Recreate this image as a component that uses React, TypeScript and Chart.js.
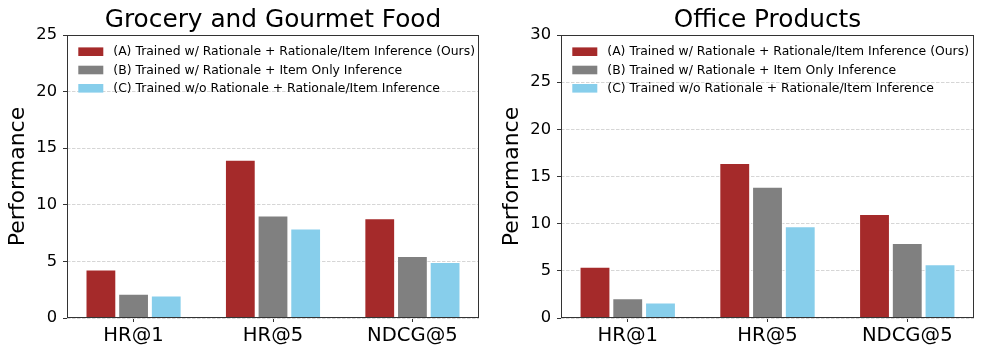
import React, { useEffect, useRef } from "react";
import { Chart, registerables } from "chart.js";

Chart.register(...registerables);

// ---- data ----
const categories = ["HR@1", "HR@5", "NDCG@5"];
const seriesLabels = [
  "(A) Trained w/ Rationale + Rationale/Item Inference (Ours)",
  "(B) Trained w/ Rationale + Item Only Inference",
  "(C) Trained w/o Rationale + Rationale/Item Inference",
];
const seriesColors = ["#a52a2a", "#808080", "#87ceeb"];

const groceryA = [4.27, 13.97, 8.79];
const groceryB = [2.13, 9.03, 5.47];
const groceryC = [1.97, 7.88, 4.94];

const officeA = [5.4, 16.41, 11.01];
const officeB = [2.08, 13.9, 7.94];
const officeC = [1.62, 9.7, 5.68];

const groceryYMax = 25;
const officeYMax = 30;
const yTickStep = 5;

const FONT = '"DejaVu Sans", sans-serif';

const frameLegendPlugin = {
  id: "frameLegend",
  afterDatasetsDraw(chart: any) {
    const { ctx, chartArea: a } = chart;
    ctx.save();
    ctx.font = `12.4px ${FONT}`;
    ctx.textBaseline = "middle";
    ctx.textAlign = "left";
    chart.data.datasets.forEach((ds: any, i: number) => {
      const cy = a.top + 16.7 + i * 18.3;
      ctx.fillStyle = ds.backgroundColor;
      ctx.fillRect(a.left + 11.3, cy - 4.3, 25, 8.6);
      ctx.fillStyle = "#000";
      ctx.fillText(ds.label, a.left + 46.3, cy + 0.5);
    });
    ctx.strokeStyle = "#333";
    ctx.lineWidth = 1;
    ctx.strokeRect(a.left + 0.5, a.top + 0.5, a.right - a.left - 1, a.bottom - a.top - 1);
    ctx.restore();
  },
};

type PanelProps = {
  title: string;
  series: number[][];
  yMax: number;
  width: number;
  plotLeft: number;
  plotRight: number;
  yTitlePad: number;
};

function Panel({ title, series, yMax, width, plotLeft, plotRight, yTitlePad }: PanelProps) {
  const ref = useRef<HTMLCanvasElement | null>(null);
  useEffect(() => {
    if (!ref.current) return;
    const chart = new Chart(ref.current, {
      type: "bar",
      data: {
        datasets: series.map((vals, i) => ({
          label: seriesLabels[i],
          data: vals.map((v, j) => ({ x: j, y: v })),
          backgroundColor: seriesColors[i],
          borderColor: "#ffffff",
          borderWidth: 0.8,
          categoryPercentage: 0.703,
          barPercentage: 0.93,
        })),
      },
      options: {
        animation: false,
        responsive: false,
        maintainAspectRatio: false,
        layout: { padding: { left: 0, right: width - plotRight, top: 0, bottom: 0 } },
        plugins: {
          legend: { display: false },
          tooltip: { enabled: false },
          title: {
            display: true,
            text: title,
            color: "#000",
            fullSize: false,
            font: { family: FONT, size: 24.8, weight: "normal", lineHeight: 1.0 },
            padding: { top: 8, bottom: 2.2 },
          },
        },
        scales: {
          x: {
            type: "linear",
            min: -0.4775,
            max: 2.4775,
            offset: false,
            border: { display: false },
            grid: {
              offset: false,
              drawOnChartArea: false,
              drawTicks: true,
              tickLength: 4,
              tickColor: "#333",
              tickBorderDash: [],
            },
            ticks: {
              stepSize: 1,
              includeBounds: false,
              autoSkip: false,
              maxRotation: 0,
              padding: 2,
              color: "#000",
              font: { family: FONT, size: 19.6 },
              callback: (v: any) => (Number.isInteger(v) ? categories[v] : ""),
            },
            afterFit: (s: any) => {
              s.height = 38;
            },
          },
          y: {
            type: "linear",
            min: 0,
            max: yMax,
            border: { display: false, dash: [3.5, 1.5] },
            grid: {
              color: "#d6d6d6",
              lineWidth: 1,
              drawTicks: true,
              tickLength: 4,
              tickColor: "#333",
              tickBorderDash: [],
            },
            ticks: {
              stepSize: yTickStep,
              padding: 6,
              color: "#000",
              font: { family: FONT, size: 16.3 },
            },
            title: {
              display: true,
              text: "Performance",
              color: "#000",
              font: { family: FONT, size: 22 },
              padding: { top: yTitlePad, bottom: 0 },
            },
            afterFit: (s: any) => {
              s.width = plotLeft;
            },
          },
        },
      } as any,
      plugins: [frameLegendPlugin],
    });
    return () => chart.destroy();
  }, []);
  return <canvas ref={ref} width={width} height={356} style={{ display: "block" }} />;
}

export default function App() {
  return (
    <div style={{ position: "absolute", left: 0, top: 0, width: 987, height: 356, background: "#fff" }}>
      <div style={{ position: "absolute", left: 0, top: 0 }}>
        <Panel
          title="Grocery and Gourmet Food"
          series={[groceryA, groceryB, groceryC]}
          yMax={groceryYMax}
          width={490}
          plotLeft={67}
          plotRight={479}
          yTitlePad={5}
        />
      </div>
      <div style={{ position: "absolute", left: 490, top: 0 }}>
        <Panel
          title="Office Products"
          series={[officeA, officeB, officeC]}
          yMax={officeYMax}
          width={497}
          plotLeft={71}
          plotRight={484}
          yTitlePad={9.5}
        />
      </div>
    </div>
  );
}
